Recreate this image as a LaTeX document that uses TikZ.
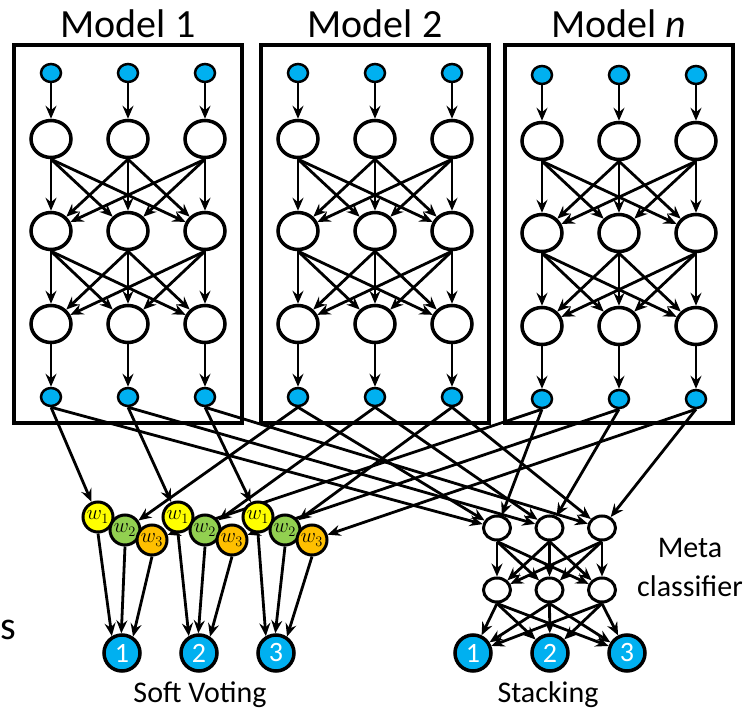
\documentclass[tikz,border=0pt]{standalone}
\usepackage{fontspec}
\setmainfont{Carlito}
\usetikzlibrary{arrows.meta,shapes.geometric,backgrounds}
\definecolor{nodeblue}{HTML}{00B0F0}
\definecolor{wyel}{HTML}{FFFF00}
\definecolor{wgrn}{HTML}{92D050}
\definecolor{worg}{HTML}{FFC000}

\begin{document}
\begin{tikzpicture}[x=1pt,y=-1pt,
  unit/.style={draw,line width=3.5pt,ellipse,fill=white,minimum width=40pt,minimum height=37pt,inner sep=0pt},
  io/.style={draw,line width=2.5pt,ellipse,fill=nodeblue,minimum width=20pt,minimum height=18pt,inner sep=0pt},
  meta/.style={draw,line width=3pt,ellipse,fill=white,minimum width=27pt,minimum height=24pt,inner sep=0pt},
  wt/.style={draw,line width=3pt,circle,minimum size=30pt,inner sep=0pt,font=\fontsize{22}{22}\selectfont},
  cls/.style={draw,line width=3.5pt,circle,fill=nodeblue,minimum size=36pt,inner sep=0pt,text=white,font=\fontsize{28}{28}\selectfont},
  title/.style={font=\fontsize{40}{40}\selectfont,inner sep=0pt},
  label/.style={font=\fontsize{30}{39}\selectfont,inner sep=0pt,align=center},
  link/.style={line width=2.8pt,-{Stealth[length=13pt,width=11pt,inset=4.5pt]}}]
\useasboundingbox (0,0) rectangle (748,709);

% models
\foreach \m/\cx/\dy/\name in {1/128/0/{Model 1},2/375/0/{Model 2},3/619/2/{Model \textit{n}}}{
  \draw[line width=3.5pt] (\cx-114,45) rectangle (\cx+114,423);
  \node[title,anchor=base] (title\m) at (\cx,38) {\name};
  \foreach \j in {1,2,3}{
    \node[io] (m\m-i\j) at ({\cx+(\j-2)*77},{73+\dy}) {};
    \node[unit] (m\m-a\j) at ({\cx+(\j-2)*77},{139+\dy}) {};
    \node[unit] (m\m-b\j) at ({\cx+(\j-2)*77},{231+\dy}) {};
    \node[unit] (m\m-c\j) at ({\cx+(\j-2)*77},{324+\dy}) {};
    \node[io] (m\m-o\j) at ({\cx+(\j-2)*77},{397+\dy}) {};
  }
}

% soft voting
\foreach \j in {1,2,3}{
  \foreach \m/\col/\yy in {1/wyel/517,2/wgrn/530,3/worg/540}{
    \node[wt,fill=\col] (w\m-\j) at ({18+80*\j+27*(\m-1)},\yy) {$w_{\m}$};
  }
  \node[cls] (v\j) at ({45+77*\j},653) {\j};
}
\node[label,anchor=base] (soft) at (200,702) {Soft Voting};

% stacking
\foreach \j in {1,2,3}{
  \node[meta] (s1-\j) at ({444.5+52.5*\j},528) {};
  \node[meta] (s2-\j) at ({444.5+52.5*\j},590) {};
  \node[cls] (t\j) at ({396+77*\j},653) {\j};
}
\node[label,anchor=base] (stack) at (548,702) {Stacking};
\node[label] (metacl) at (690,567) {Meta\\classifier};
\node[title,anchor=base west] (frag) at (0,639) {s};

\begin{pgfonlayer}{background}
\foreach \m/\ang in {1/121,2/92,3/56}{
  \foreach \i in {1,2,3}{
    \draw[link] (m\m-i\i.south) -- (m\m-a\i);
    \draw[link] (m\m-c\i.south) -- (m\m-o\i);
    \draw[link] (m\m-o\i.south) -- (w\m-\i);
    \draw[link] (m\m-o\i.south) -- (s1-\i);
    \draw[link] (w\m-\i.south) -- (v\i.\ang);
    \foreach \j in {1,2,3}{
      \draw[link] (m\m-a\i.south) -- (m\m-b\j);
      \draw[link] (m\m-b\i.south) -- (m\m-c\j);
    }
  }
}
\foreach \i in {1,2,3}{
  \foreach \j in {1,2,3}{
    \draw[link] (s1-\i.south) -- (s2-\j);
    \draw[link] (s2-\i.south) -- (t\j);
  }
}
\end{pgfonlayer}
\end{tikzpicture}
\end{document}
